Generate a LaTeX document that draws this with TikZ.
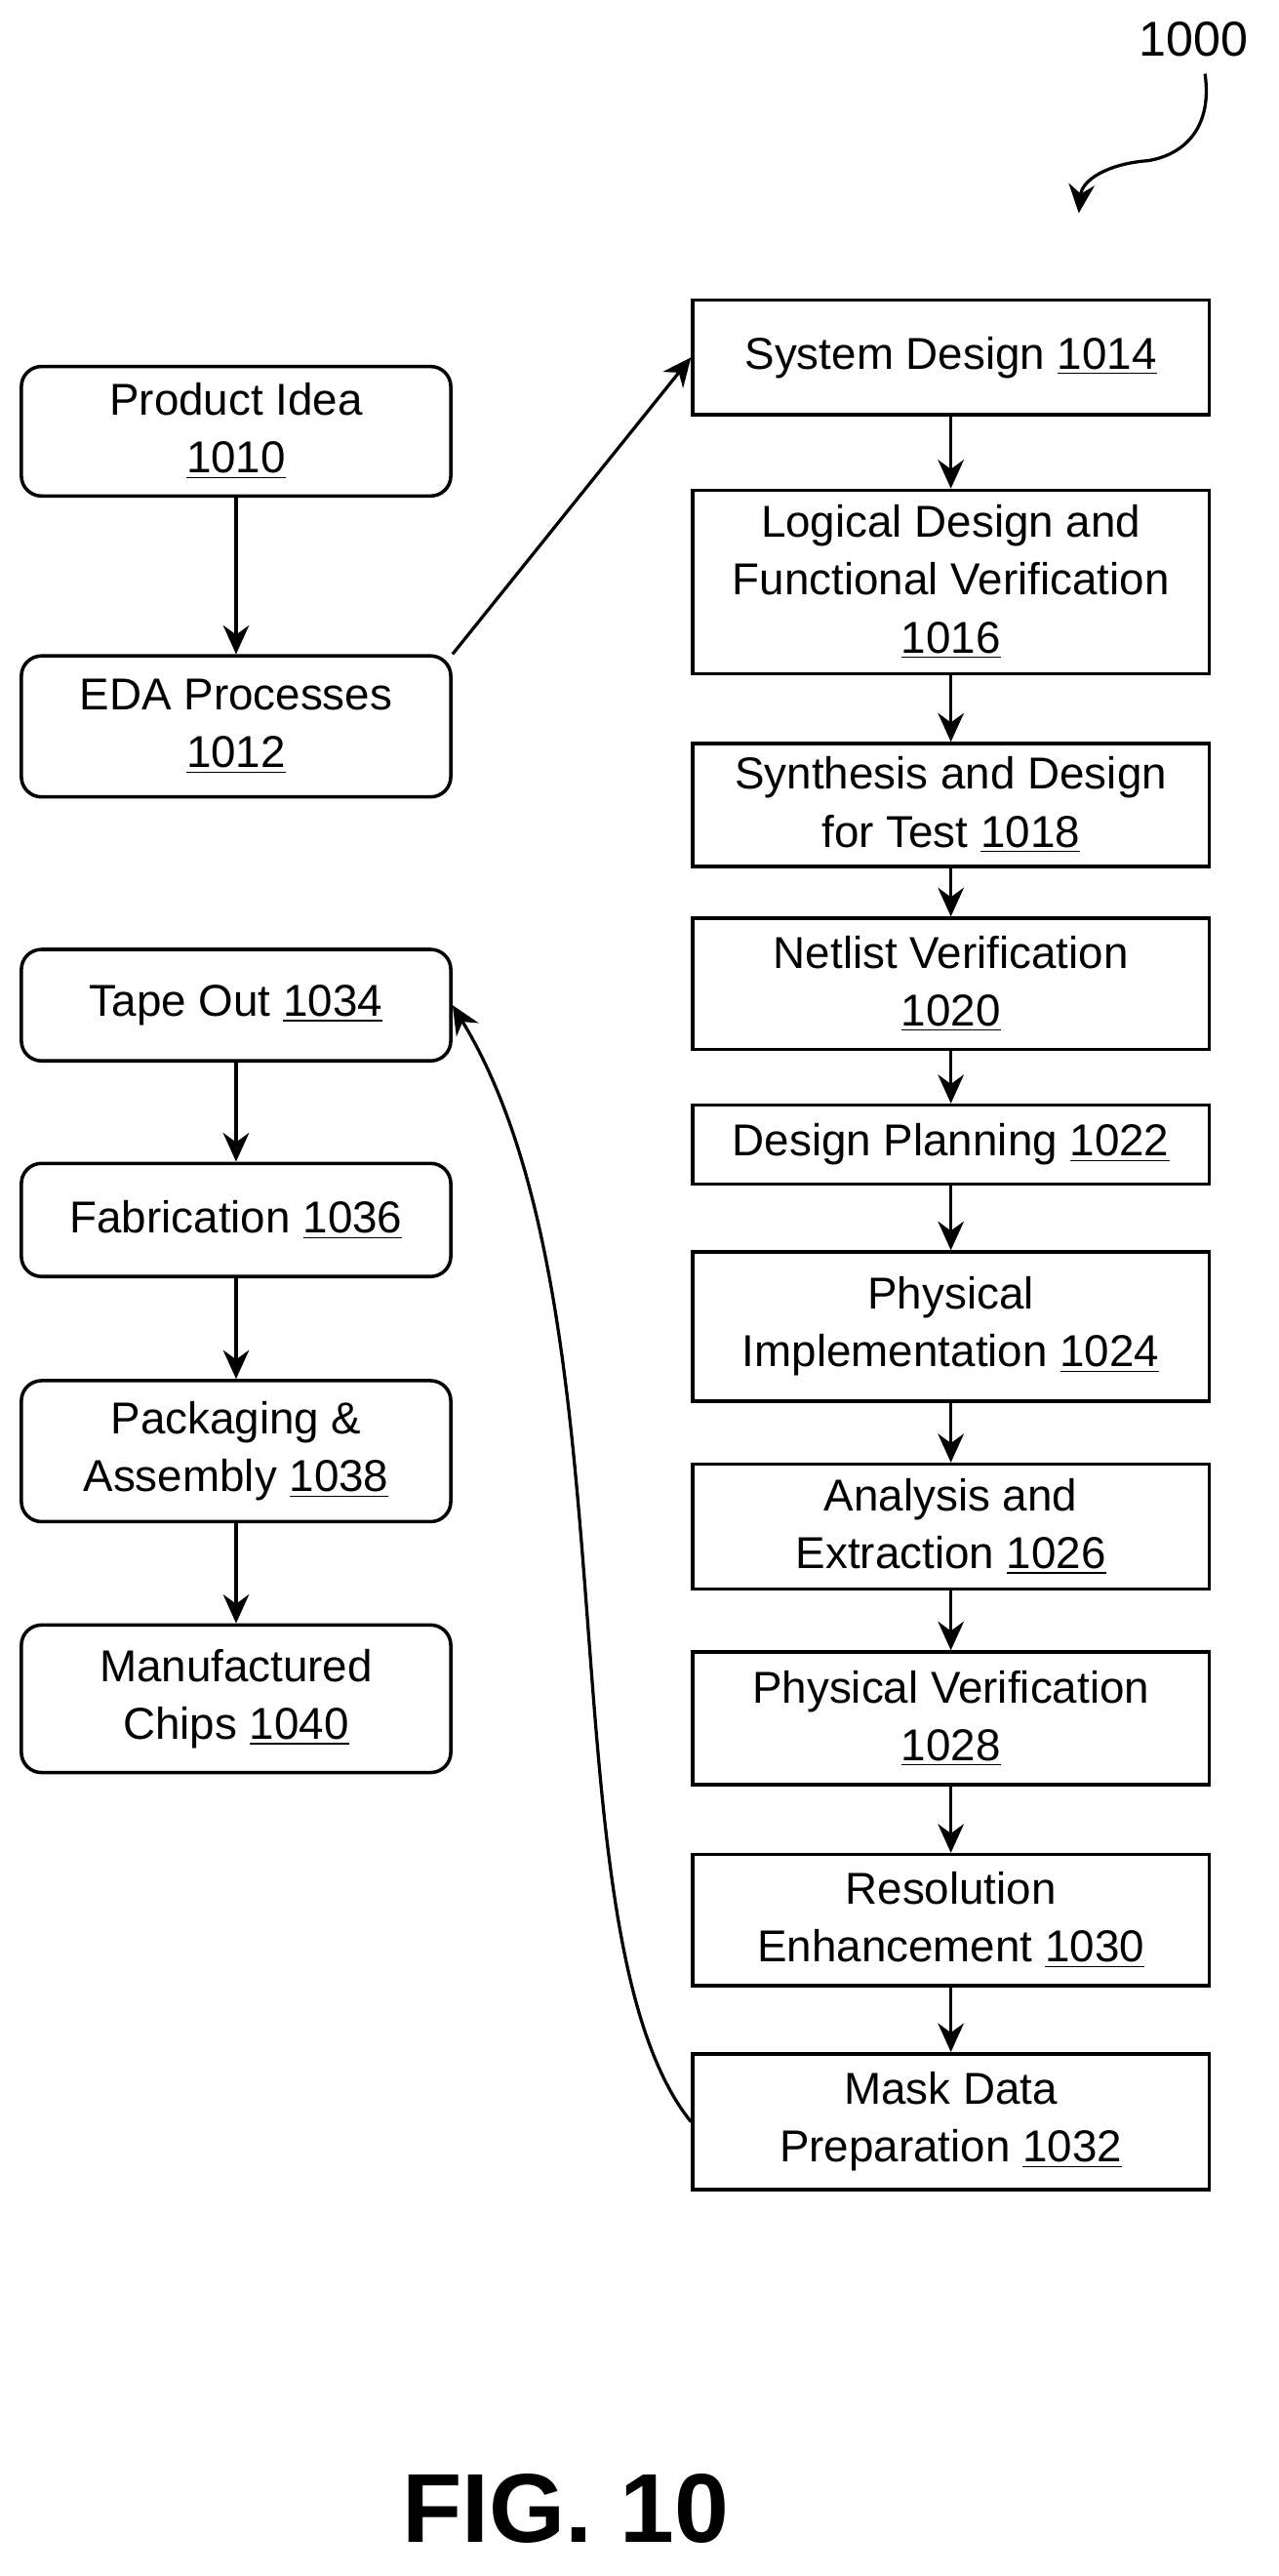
\documentclass[tikz,border=0pt]{standalone}
\usepackage{fontspec}
\setmainfont{Liberation Sans}
\usetikzlibrary{arrows.meta,positioning}
\tikzset{
  stage/.style={draw, line width=1.2pt, align=center, inner sep=1pt,
    font=\fontsize{15.5}{20}\selectfont},
  lstage/.style={stage, rounded corners=7pt, minimum width=5.24cm},
  rstage/.style={stage, minimum width=6.3cm},
  flow/.style={->, line width=1.1pt, >={Stealth[length=10pt,width=9pt]}}
}
\begin{document}
\begin{tikzpicture}[x=0.02cm, y=-0.02cm]
  \useasboundingbox (0,0) rectangle (780,1571);
  % left column
  \node[lstage, minimum height=1.58cm] (idea) at (144,263) {Product Idea\\\underline{1010}};
  \node[lstage, minimum height=1.72cm] (eda) at (144,443) {EDA Processes\\\underline{1012}};
  \node[lstage, minimum height=1.36cm] (tape) at (144,613) {Tape Out \underline{1034}};
  \node[lstage, minimum height=1.38cm] (fab) at (144,744) {Fabrication \underline{1036}};
  \node[lstage, minimum height=1.72cm] (pack) at (144,885) {Packaging \&\\Assembly \underline{1038}};
  \node[lstage, minimum height=1.8cm] (chips) at (144,1036) {Manufactured\\Chips \underline{1040}};
  % right column
  \node[rstage, minimum height=1.4cm] (sys) at (580,218) {System Design \underline{1014}};
  \node[rstage, minimum height=2.24cm] (logic) at (580,355) {Logical Design and\\Functional Verification\\\underline{1016}};
  \node[rstage, minimum height=1.5cm] (synth) at (580,491) {Synthesis and Design\\for Test \underline{1018}};
  \node[rstage, minimum height=1.6cm] (net) at (580,600) {Netlist Verification\\\underline{1020}};
  \node[rstage, minimum height=0.96cm] (plan) at (580,698) {Design Planning \underline{1022}};
  \node[rstage, minimum height=1.82cm] (impl) at (580,809) {Physical\\Implementation \underline{1024}};
  \node[rstage, minimum height=1.52cm] (anal) at (580,931) {Analysis and\\Extraction \underline{1026}};
  \node[rstage, minimum height=1.62cm] (pver) at (580,1048) {Physical Verification\\\underline{1028}};
  \node[rstage, minimum height=1.6cm] (res) at (580,1171) {Resolution\\Enhancement \underline{1030}};
  \node[rstage, minimum height=1.66cm] (mask) at (580,1294) {Mask Data\\Preparation \underline{1032}};
  % connectors
  \draw[flow] (idea) -- (eda);
  \draw[flow] (tape) -- (fab);
  \draw[flow] (fab) -- (pack);
  \draw[flow] (pack) -- (chips);
  \draw[flow] (eda.north east) -- (sys.west);
  \foreach \a/\b in {sys/logic, logic/synth, synth/net, net/plan, plan/impl,
                     impl/anal, anal/pver, pver/res, res/mask}
    \draw[flow] (\a) -- (\b);
  \draw[flow] (mask.west) .. controls (330,1180) and (390,800) .. (tape.east);
  % figure label
  \node[font=\fontsize{17}{20}\selectfont] (num) at (728,24) {1000};
  \coordinate (tip) at (658,130);
  \draw[flow] (735,45) .. controls (740,80) and (720,95) .. (700,98)
    .. controls (675,100) and (660,110) .. (tip);
  \node[font=\fontsize{34}{40}\selectfont\bfseries] (fig) at (345,1530) {FIG. 10};
\end{tikzpicture}
\end{document}
